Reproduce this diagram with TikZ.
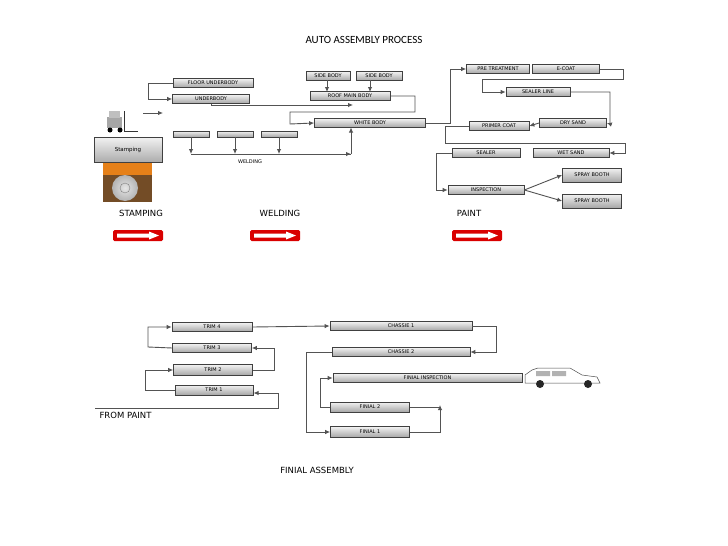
\documentclass[tikz,border=0pt]{standalone}
\usepackage{fontspec}
\setmainfont{Liberation Sans}
\newfontfamily\titlef{Carlito}
\newfontfamily\widef{DejaVu Sans}
\usetikzlibrary{arrows.meta}
\begin{document}
\begin{tikzpicture}[x=1pt,y=-1pt,
 bar/.style={draw=gray!50!black,line width=0.7pt,top color=gray!10,bottom color=gray!70,minimum height=9pt,inner sep=0pt,font=\widef\fontsize{5}{5}\selectfont},
 ln/.style={draw=gray!65!black,line width=0.9pt},
 ar/.style={ln,-{Latex[length=5pt,width=4.5pt]}},
 lab/.style={font=\widef\fontsize{8.5}{8.5}\selectfont}]
\useasboundingbox (0,0) rectangle (728,546);
\fill[white] (0,0) rectangle (728,546);
\node[font=\titlef\fontsize{11}{11}\selectfont] (title) at (364,40) {AUTO ASSEMBLY PROCESS};
% welding
\node[bar,minimum width=80pt] (fu) at (213,83) {FLOOR UNDERBODY};
\node[bar,minimum width=77pt] (ub) at (211,99) {UNDERBODY};
\node[bar,minimum width=44pt] (sb1) at (328,76) {SIDE BODY};
\node[bar,minimum width=46pt] (sb2) at (379,76) {SIDE BODY};
\node[bar,minimum width=80pt] (rm) at (350,96) {ROOF MAIN BODY};
\node[bar,minimum width=111pt] (wb) at (370,123) {WHITE BODY};
\node[bar,minimum width=36pt,minimum height=6pt] (w1) at (191,134) {};
\node[bar,minimum width=36pt,minimum height=6pt] (w2) at (235,134) {};
\node[bar,minimum width=36pt,minimum height=6pt] (w3) at (279,134) {};
\node[font=\widef\fontsize{5}{5}\selectfont] (wl) at (250,162) {WELDING};
\draw[ar] (fu.west) -- (148,83) |- (ub.west);
\draw[ar] (327,80) -- (327,92);
\draw[ar] (370,80) -- (370,92);
\coordinate (ubr) at (353,105);
\draw[ar] (211,103.5) |- (ubr);
\draw[ar] (rm.east) -| (415,112) -| (290,124) -- (wb.west);
\draw[ar] (w1.south) -- (191,154);
\draw[ar] (w2.south) -- (235,154);
\draw[ar] (w3.south) -- (279,154);
\draw[ln] (191,154) -- (351,154);
\draw[ar] (340,154) -- (351,154);
\draw[ar] (351,154) -- (351,127.5);
% stamping
\node[draw=gray!50!black,line width=0.8pt,top color=gray!10,bottom color=gray!65,minimum width=68pt,minimum height=25pt,font=\widef\fontsize{5.5}{6}\selectfont] (st) at (128,149.5) {Stamping};
\fill[brown!60!black] (103,163) rectangle (152,202);
\fill[orange!60!brown] (103,163) rectangle (152,175);
\shade[inner color=gray!20,outer color=gray!60] (125,188) circle (13);
\draw[gray] (125,188) circle (5);
% forklift
\fill[gray!70] (107,117) rectangle (122,128);
\fill[gray!50] (109,111) rectangle (120,118);
\draw[gray!40!black,line width=1pt] (124,111) -- (124,131) -- (138,131);
\fill[black] (110,130) circle (2.5) (120,130) circle (2.5);
\draw[ar] (143,113) -- (163,113);
% paint
\node[bar,minimum width=63pt] (pt) at (498,69) {PRE TREATMENT};
\node[bar,minimum width=67pt] (ec) at (566,69) {E-COAT};
\node[bar,minimum width=64pt] (sl) at (538,92) {SEALER LINE};
\node[bar,minimum width=67pt] (ds) at (573,123) {DRY SAND};
\node[bar,minimum width=60pt] (pc) at (499,126) {PRIMER COAT};
\node[bar,minimum width=76pt] (ws) at (571,153) {WET SAND};
\node[bar,minimum width=68pt] (se) at (486,153) {SEALER};
\node[bar,minimum width=76pt] (in) at (486,190) {INSPECTION};
\node[bar,minimum width=59pt,minimum height=14pt] (sp1) at (592,175) {SPRAY BOOTH};
\node[bar,minimum width=59pt,minimum height=14pt] (sp2) at (592,201) {SPRAY BOOTH};
\draw[ar] (wb.east) -- (450,123) |- (pt.west);
\draw[ar] (ec.east) -- (623,69) |- (482,79) |- (sl.west);
\draw[ar] (sl.east) -| (610,124) -- (ds.east);
\draw[ar] (ds.west) -- (pc.east);
\draw[ar] (pc.west) -| (445,143) -| (625,153) -- (ws.east);
\draw[ar] (se.west) -| (436,190) -- (in.west);
\draw[ar] (in.east) -- (sp1.west);
\draw[ar] (in.east) -- (sp2.west);
% labels & red arrows
\node[lab] (l1) at (141,213) {STAMPING};
\node[lab] (l2) at (280,213) {WELDING};
\node[lab] (l3) at (469,213) {PAINT};
\foreach \x in {113,250,452}{
 \fill[red!85!black,rounded corners=1.5pt] (\x,230) rectangle ++(50,11);
 \fill[white] (\x+4,233.5) -- (\x+36,233.5) -- (\x+36,231.5) -- (\x+46,235.5) -- (\x+36,239.5) -- (\x+36,237.5) -- (\x+4,237.5) -- cycle;}
% final assembly
\node[bar,minimum width=80pt] (t4) at (212,327) {TRIM 4};
\node[bar,minimum width=79pt] (t3) at (212,348) {TRIM 3};
\node[bar,minimum width=79pt,minimum height=11pt] (t2) at (213,370) {TRIM 2};
\node[bar,minimum width=78pt,minimum height=10pt] (t1) at (214,390) {TRIM 1};
\node[bar,minimum width=142pt] (c1) at (401,326) {CHASSIE 1};
\node[bar,minimum width=138pt] (c2) at (401,352) {CHASSIE 2};
\node[bar,minimum width=189pt] (fi) at (427.5,378) {FINIAL INSPECTION};
\node[bar,minimum width=79pt,minimum height=10pt] (f2) at (370,407) {FINIAL 2};
\node[bar,minimum width=79pt,minimum height=11pt] (f1) at (370,432) {FINIAL 1};
\coordinate (fp) at (95,408);
\draw[ar] (fp) -- (278,408) |- (253.5,393);
\draw[ar] (t1.west) -- (145,390) |- (t2.west);
\draw[ar] (t2.east) -- (274,370) |- (t3.east);
\draw[ar] (t3.west) -- (148,347) |- (t4.west);
\draw[ar] (t4.east) -- (c1.west);
\draw[ar] (c1.east) -- (496,326) |- (c2.east);
\draw[ar] (c2.west) -- (306,352) |- (f1.west);
\draw[ln] (f1.east) -- (440,432) -- (440,407);
\draw[ln] (f2.east) -- (440,407);
\draw[ar] (440,412) -- (440,405);
\draw[ar] (f2.west) -- (320,407) |- (fi.west);
\node[lab,anchor=west] (fpl) at (96,415) {FROM PAINT};
\node[lab] (fa) at (317,470) {FINIAL ASSEMBLY};
% car
\fill[white,draw=gray!60!black,line width=0.5pt] (525,383) -- (525,375) -- (532,370) -- (538,368) -- (570,368) -- (582,375) -- (597,377) -- (600,383) -- cycle;
\fill[gray!60] (536,371) rectangle (550,376) (552,371) rectangle (566,376);
\fill[gray!30!black] (540,384) circle (4) (588,384) circle (4);
\end{tikzpicture}
\end{document}
